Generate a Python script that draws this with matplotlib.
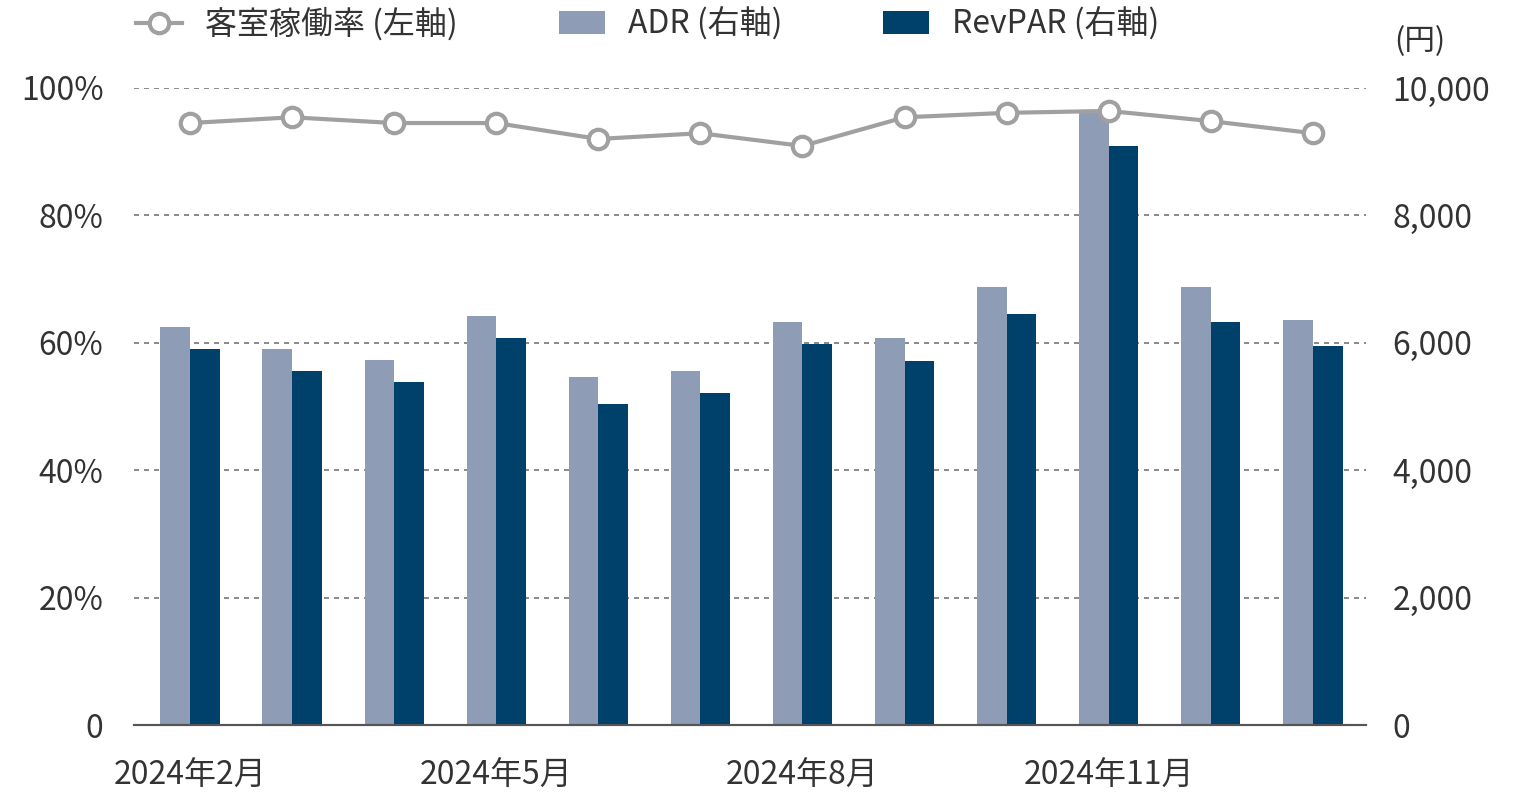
import matplotlib.pyplot as plt
from matplotlib.ticker import FuncFormatter
import numpy as np

plt.rcParams['font.family'] = ['Noto Sans CJK JP', 'DejaVu Sans']

# データ
months = ['2024年2月', '2024年3月', '2024年4月', '2024年5月', '2024年6月', '2024年7月',
          '2024年8月', '2024年9月', '2024年10月', '2024年11月', '2024年12月', '2025年1月']
occupancy = [94.5, 95.4, 94.5, 94.5, 92.0, 92.9, 90.9, 95.4, 96.1, 96.4, 94.8, 92.9]
adr = [6250, 5900, 5730, 6420, 5460, 5560, 6330, 6075, 6880, 9620, 6880, 6360]
revpar = [5900, 5560, 5385, 6075, 5040, 5210, 5980, 5715, 6450, 9090, 6330, 5950]
shown_ticks = [0, 3, 6, 9]

c_adr = '#8f9cb6'
c_rev = '#00416b'
c_line = '#a0a0a0'
c_text = '#333333'

fig = plt.figure(figsize=(15.2, 8.08), dpi=100)
ax = fig.add_axes([134 / 1520, 83 / 808, 1232 / 1520, 637 / 808])
ax2 = ax.twinx()

x = np.arange(len(months))
w = 0.29

# 棒グラフ（右軸）
b1 = ax2.bar(x - w / 2, adr, w, color=c_adr, label='ADR (右軸)', zorder=2)
b2 = ax2.bar(x + w / 2, revpar, w, color=c_rev, label='RevPAR (右軸)', zorder=2)
ax2.set_ylim(0, 10000)
ax2.set_yticks(np.arange(0, 10001, 2000))
ax2.yaxis.set_major_formatter(FuncFormatter(lambda v, p: f'{int(v):,}'))
ax2.grid(axis='y', color='#777777', linestyle=(0, (3, 3)), linewidth=1.2, zorder=0)
ax2.set_axisbelow(True)

# 折れ線（左軸）
ln, = ax.plot(x, occupancy, color=c_line, lw=3, marker='o', markersize=14,
              markerfacecolor='white', markeredgecolor=c_line, markeredgewidth=3,
              label='客室稼働率 (左軸)', zorder=5, clip_on=False)
ax.set_ylim(0, 100)
ax.set_yticks(np.arange(0, 101, 20))
ax.yaxis.set_major_formatter(FuncFormatter(lambda v, p: '0' if v == 0 else f'{int(v)}%'))
ax.set_zorder(ax2.get_zorder() + 1)
ax.patch.set_visible(False)

ax.set_xlim(-0.548, 11.52)
ax.set_xticks(x[shown_ticks])
ax.set_xticklabels([months[i] for i in shown_ticks])

for a in (ax, ax2):
    for s in ('top', 'left', 'right'):
        a.spines[s].set_visible(False)
    a.spines['bottom'].set_color('#555555')
    a.spines['bottom'].set_linewidth(1.5)
    a.tick_params(length=0, labelsize=23, labelcolor=c_text)
ax.tick_params(axis='y', pad=22)
ax2.tick_params(axis='y', pad=19)
ax.tick_params(axis='x', pad=25)

fig.text(1394 / 1520, 1 - 42 / 808, '(円)', fontsize=22, color=c_text,
         ha='left', va='center')

fig.legend(handles=[ln, b1, b2], loc='center left', bbox_to_anchor=(136 / 1520, 1 - 24 / 808),
           ncol=3, frameon=False, fontsize=23, handlelength=1.45, handletextpad=0.72,
           columnspacing=3.15, labelcolor=c_text, borderaxespad=0, borderpad=0)

fig.savefig('out.png', dpi=100)
